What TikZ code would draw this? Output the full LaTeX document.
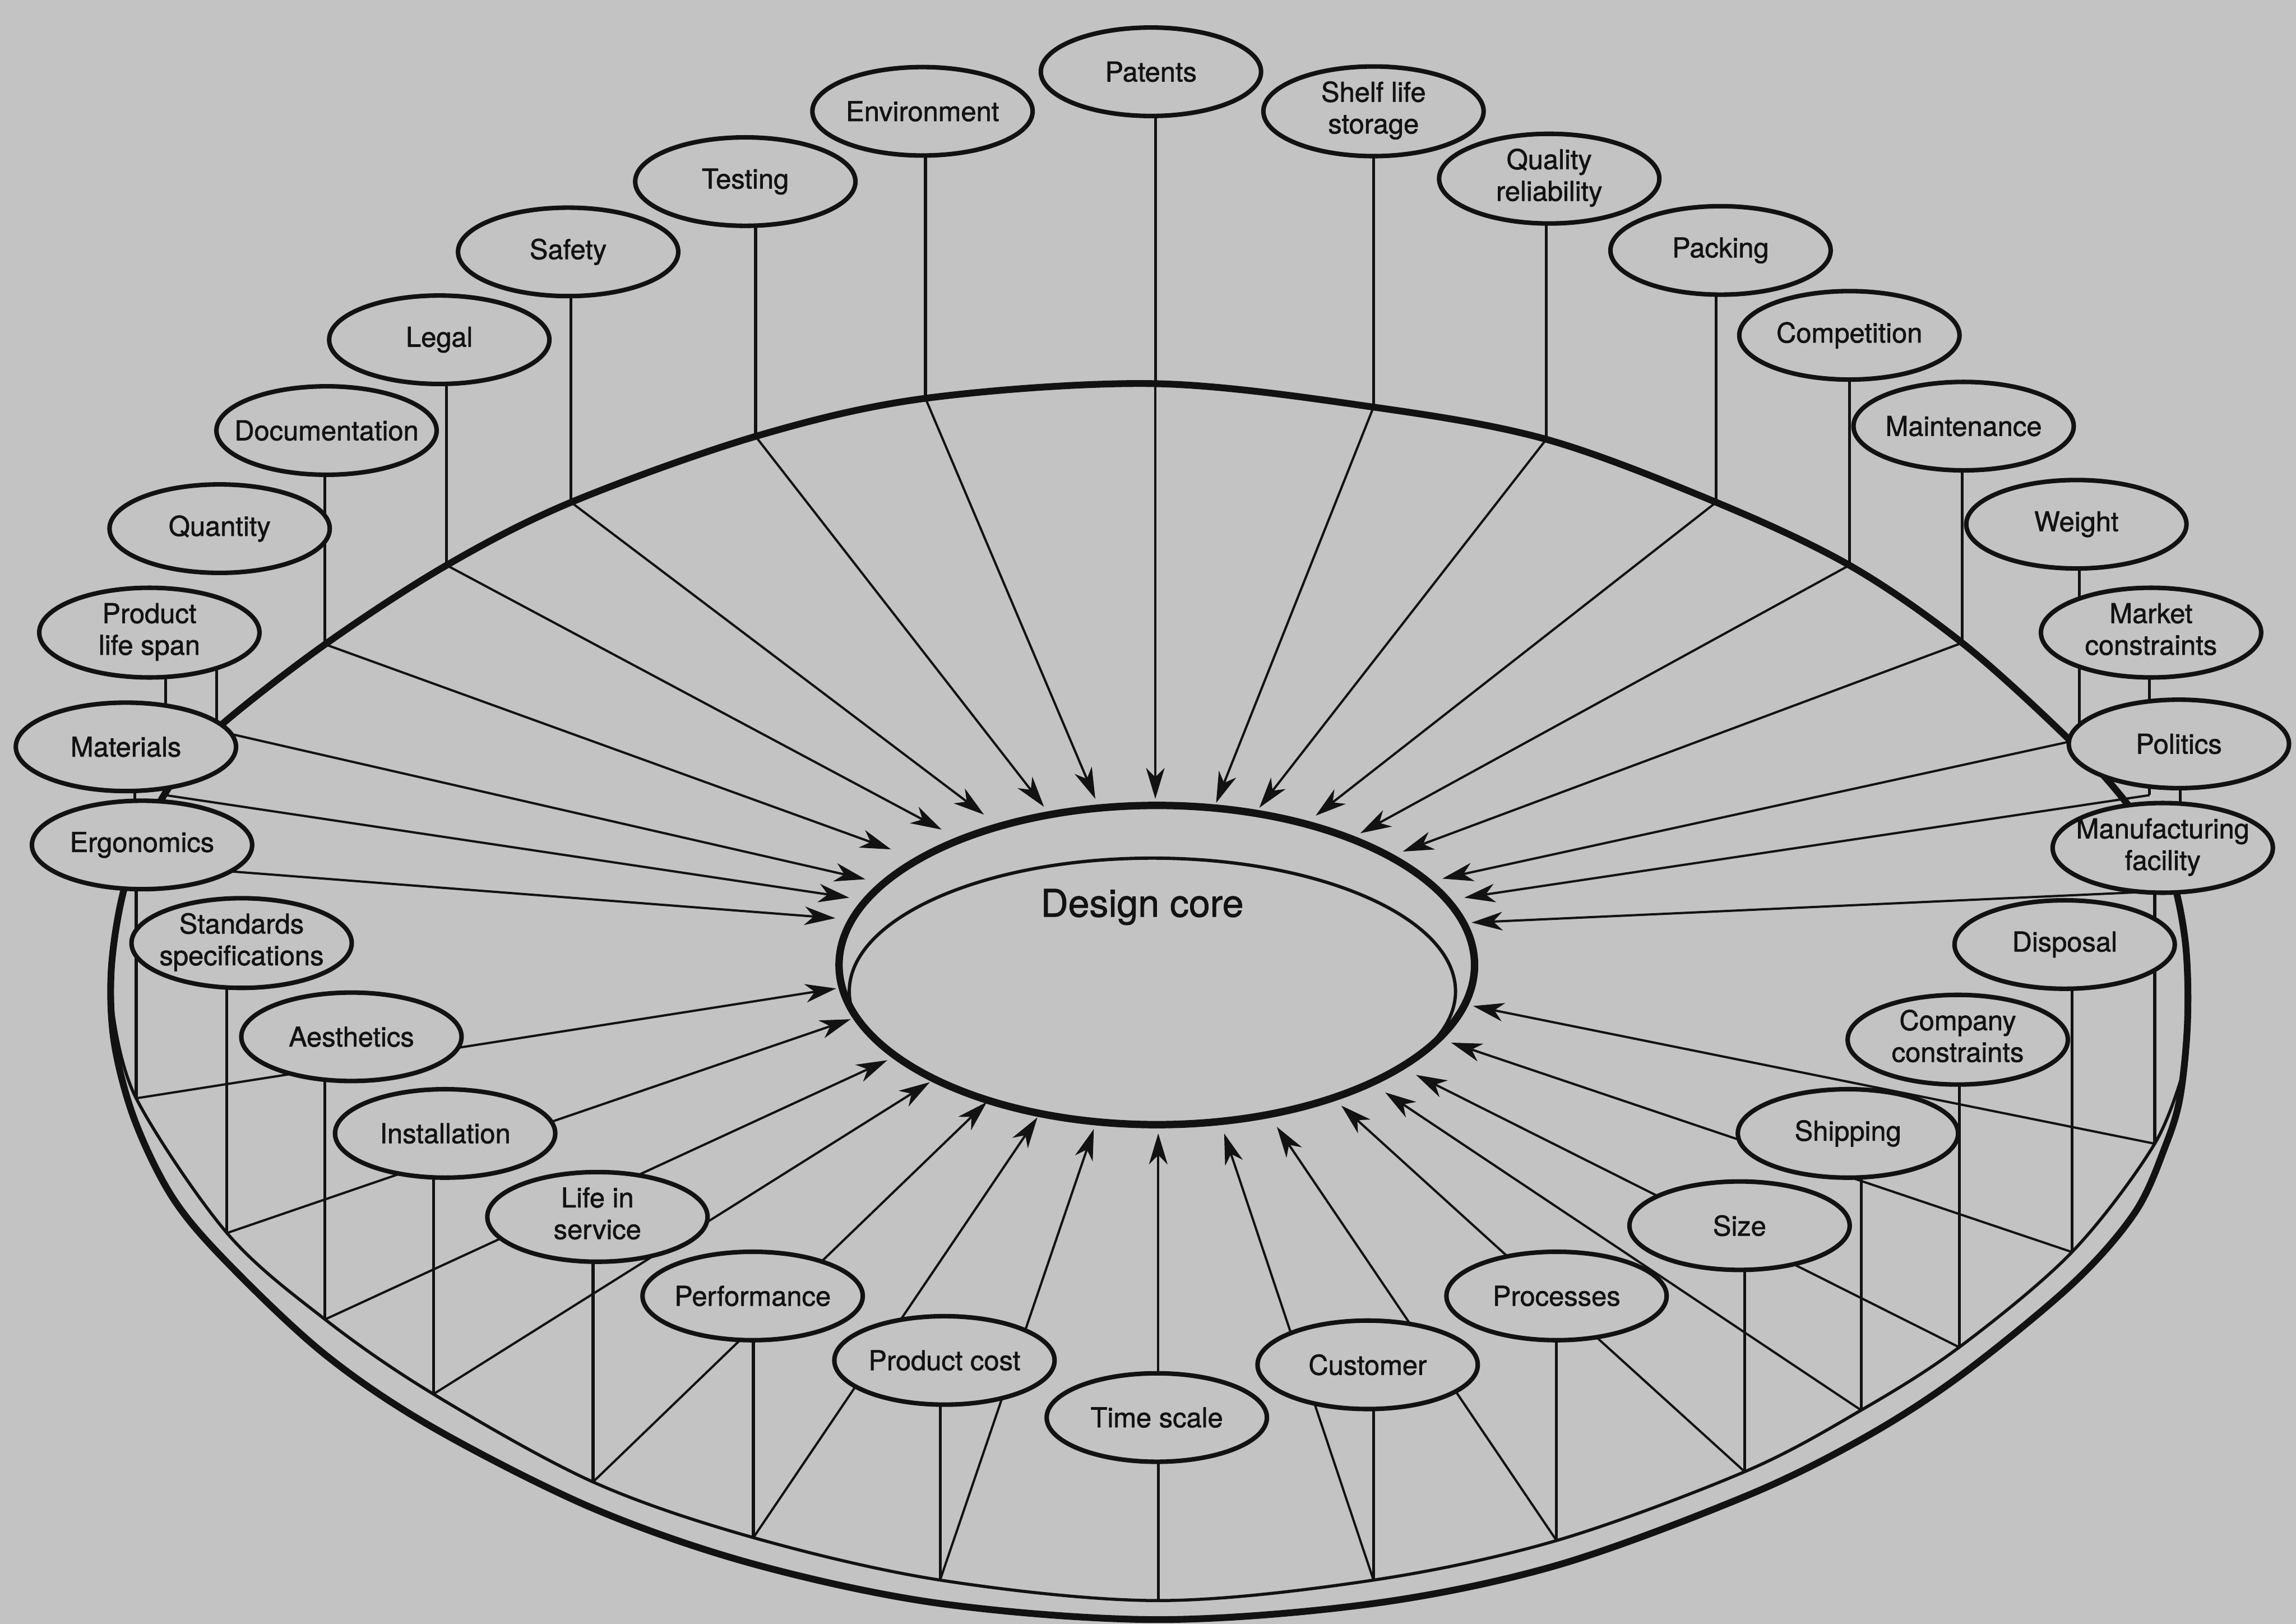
\documentclass[tikz,border=0pt]{standalone}
\usepackage{fontspec}
\setmainfont{TeX Gyre Heros}[FakeBold=1.3]
\usetikzlibrary{shapes.geometric,arrows.meta}
\pgfdeclarelayer{back}
\pgfsetlayers{back,main}
\definecolor{bgc}{RGB}{195,195,195}
\definecolor{ink}{RGB}{18,18,18}
\newcommand{\one}[1]{\makebox[0pt]{#1}}
\newcommand{\two}[2]{\makebox[0pt]{\begin{tabular}{@{}c@{}}#1\\#2\end{tabular}}}
\begin{document}
\begin{tikzpicture}[x=0.25mm,y=-0.25mm,line join=round,
  fac/.style={ellipse,draw=ink,fill=bgc,line width=2.2pt,minimum width=37.6mm,
    minimum height=15.1mm,inner sep=0pt,text=ink,font=\fontsize{13.3}{15.4}\selectfont},
  vl/.style={draw=ink,line width=1.4pt},
  ray/.style={draw=ink,line width=1.1pt,-{Stealth[length=15pt,width=9pt,inset=4.5pt]}},
  rimthick/.style={draw=ink,line width=3.3pt},
  rimthin/.style={draw=ink,line width=1.5pt},
  coreell/.style={ellipse,draw=ink,line width=3.6pt,minimum width=108.5mm,minimum height=54.5mm,inner sep=0pt}]
\useasboundingbox (0,0) rectangle (1568,1109);

% rim points and arrow tips
\coordinate (rpat) at (789,262);    \coordinate (tpat) at (789,545.5);
\coordinate (renv) at (632,272);    \coordinate (tenv) at (748,545.5);
\coordinate (rshelf) at (938,278);  \coordinate (tshelf) at (830.5,548.3);
\coordinate (rtest) at (516,298);   \coordinate (ttest) at (713,551);
\coordinate (rqual) at (1056,300);  \coordinate (tqual) at (860,551.6);
\coordinate (rsafe) at (390,343);   \coordinate (tsafe) at (672,556.3);
\coordinate (rpack) at (1172,343);  \coordinate (tpack) at (898.5,557);
\coordinate (rlegal) at (305,386);  \coordinate (tlegal) at (643,566.5);
\coordinate (rcomp) at (1263,386);  \coordinate (tcomp) at (929,569);
\coordinate (rdoc) at (222,440);    \coordinate (tdoc) at (608.5,580);
\coordinate (rmaint) at (1340,439); \coordinate (tmaint) at (958,581.5);
\coordinate (rquant) at (148,499);  \coordinate (tquant) at (591,600.4);
\coordinate (rweight) at (1420,505);\coordinate (tweight) at (985,600);
\coordinate (rpls) at (113,543);    \coordinate (tpls) at (580,613);
\coordinate (rmarket) at (1468,543);\coordinate (tmarket) at (1000,613);
\coordinate (rmat) at (92,590);     \coordinate (tmat) at (570.5,627);
\coordinate (rpol) at (1489,608);   \coordinate (tpol) at (1005,630);
\coordinate (rergo) at (93,750);    \coordinate (tergo) at (571,675);
\coordinate (rmanu) at (1471.5,781);\coordinate (tmanu) at (1006,687);
\coordinate (rstd) at (155,842);    \coordinate (tstd) at (581,696);
\coordinate (rdisp) at (1415,855);  \coordinate (tdisp) at (991,712);
\coordinate (raes) at (222,901);    \coordinate (taes) at (606,724);
\coordinate (rcc) at (1338,920);    \coordinate (tcc) at (967,734);
\coordinate (rinst) at (296,952);   \coordinate (tinst) at (635,739);
\coordinate (rship) at (1271,963);  \coordinate (tship) at (946,746);
\coordinate (rlis) at (405,1012);   \coordinate (tlis) at (674,752.5);
\coordinate (rsize) at (1191.5,1005);\coordinate (tsize) at (916,755);
\coordinate (rperf) at (514.5,1050);\coordinate (tperf) at (708.5,763);
\coordinate (rproc) at (1063,1052); \coordinate (tproc) at (872,769.5);
\coordinate (rpc) at (642,1079);    \coordinate (tpc) at (747,771);
\coordinate (rcust) at (938,1079);  \coordinate (tcust) at (836,774);
\coordinate (rtime) at (791,1093);  \coordinate (ttime) at (791,774);

% factor nodes
\node[fac] (pat) at (786,49) {\one{Patents}};
\node[fac] (env) at (630,76) {\one{Environment}};
\node[fac] (shelf) at (938,76) {\two{Shelf life}{storage}};
\node[fac] (test) at (509,124) {\one{Testing}};
\node[fac] (qual) at (1058,122) {\two{Quality}{reliability}};
\node[fac] (safe) at (388,172) {\one{Safety}};
\node[fac] (pack) at (1175,171) {\one{Packing}};
\node[fac] (legal) at (300,232) {\one{Legal}};
\node[fac] (comp) at (1263,229) {\one{Competition}};
\node[fac] (doc) at (223,294) {\one{Documentation}};
\node[fac] (maint) at (1341,291) {\one{Maintenance}};
\node[fac] (quant) at (150,361) {\one{Quantity}};
\node[fac] (weight) at (1418,358) {\one{Weight}};
\node[fac] (pls) at (102,432) {\two{Product}{life span}};
\node[fac] (market) at (1469,432) {\two{Market}{constraints}};
\node[fac] (mat) at (86,510) {\one{Materials}};
\node[fac] (pol) at (1488,508) {\one{Politics}};
\node[fac] (ergo) at (97,577) {\one{Ergonomics}};
\node[fac] (manu) at (1477,579) {\two{Manufacturing}{facility}};
\node[fac] (std) at (165,644) {\two{Standards}{specifications}};
\node[fac] (disp) at (1410,645) {\one{Disposal}};
\node[fac] (aes) at (240,708) {\one{Aesthetics}};
\node[fac] (cc) at (1337,710) {\two{Company}{constraints}};
\node[fac] (inst) at (304,774) {\one{Installation}};
\node[fac] (ship) at (1262,774) {\one{Shipping}};
\node[fac] (lis) at (408,831) {\two{Life in}{service}};
\node[fac] (size) at (1188,837) {\one{Size}};
\node[fac] (perf) at (514,885) {\one{Performance}};
\node[fac] (proc) at (1063,885) {\one{Processes}};
\node[fac] (pc) at (645,929) {\one{Product cost}};
\node[fac] (cust) at (934,932) {\one{Customer}};
\node[fac] (time) at (790,968) {\one{Time scale}};

% design core
\node[coreell] (core) at (790,659) {};
\begin{scope}
  \clip (core.center) ellipse [x radius=54.25mm, y radius=27.25mm];
  \draw[draw=ink,line width=1.6pt] (787,677) ellipse [x radius=51.75mm, y radius=22.75mm];
\end{scope}
\node[text=ink,anchor=base,font=\fontsize{18.5}{22}\selectfont] (coretext) at (780,626) {Design core};

\begin{pgfonlayer}{back}
  \fill[bgc] (0,0) rectangle (1568,1109);
  % disc outline
  \draw[rimthick] plot[smooth cycle,tension=0.55] coordinates {
    (76,662) (84,610) (100,565) (122,528) (150,496) (rdoc) (rlegal) (rsafe) (rtest)
    (renv) (rpat) (rshelf) (rqual) (rpack) (rcomp) (rmaint) (1412,504) (1452,548)
    (1480,590) (1492,640) (1494,695) (1489,748) (1479,782) (1458,828) (1415,877)
    (1338,940) (1271,983) (1191.5,1022) (1063,1069) (938,1095) (791,1106) (642,1095)
    (514.5,1068) (405,1030) (296,975) (222,925) (155,862) (118,818) (92,765) (78,712)};
  % front rim of the top surface
  \draw[rimthin] plot[smooth,tension=0.55] coordinates {
    (77,690) (rergo) (rstd) (raes) (rinst) (rlis) (rperf) (rpc) (rtime) (rcust)
    (rproc) (rsize) (rship) (rcc) (rdisp) (rmanu) (1493,725)};
  % stems and arrows
  \foreach \k in {pat,env,shelf,test,qual,safe,pack,legal,comp,doc,maint,weight,
    pls,market,mat,pol,ergo,manu,std,disp,aes,cc,inst,ship,lis,size,perf,proc,pc,cust,time}{
    \draw[vl] (\k.center -| r\k) -- (r\k);
  }
  \draw[vl] (pls.center -| rquant) -- (rquant);
  \foreach \k in {pat,env,shelf,test,qual,safe,pack,legal,comp,doc,maint,quant,weight,
    pls,market,mat,pol,ergo,manu,std,disp,aes,cc,inst,ship,lis,size,perf,proc,pc,cust,time}{
    \draw[ray] (r\k) -- (t\k);
  }
\end{pgfonlayer}
\end{tikzpicture}
\end{document}
